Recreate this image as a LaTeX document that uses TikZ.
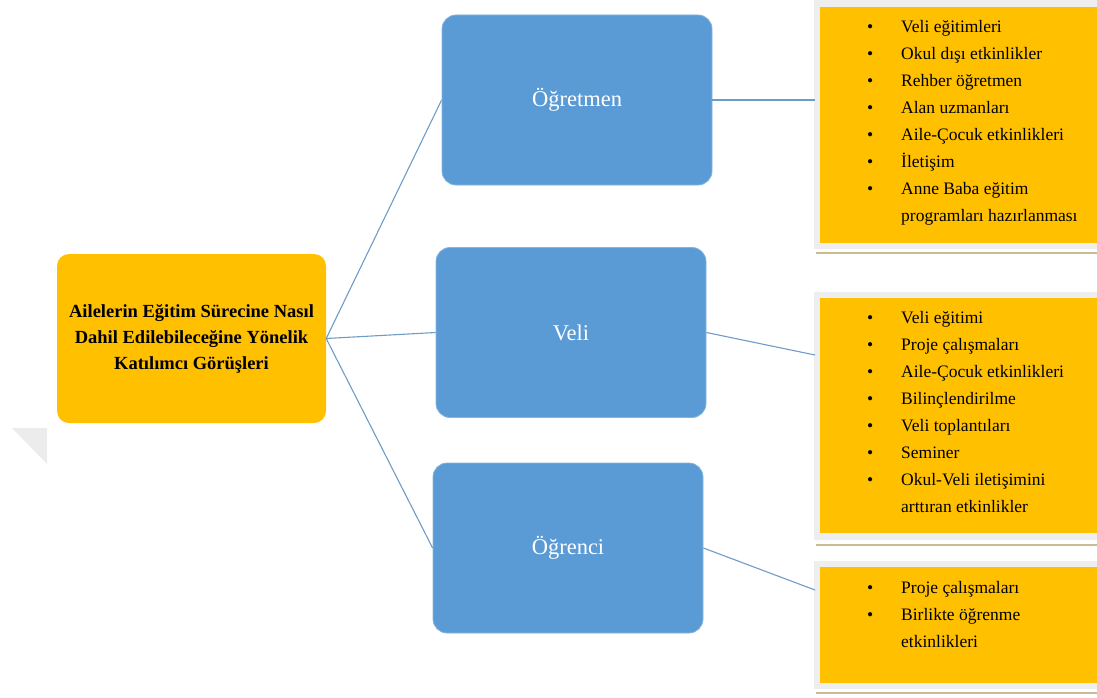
\documentclass[tikz,border=0pt]{standalone}
\usepackage{fontspec}
\setmainfont{Liberation Serif}
\definecolor{cOrange}{HTML}{FFC000}
\definecolor{cBlue}{HTML}{5B9BD5}
\definecolor{cLine}{HTML}{6F9BC8}
\definecolor{cFrame}{HTML}{EEEEEE}
\definecolor{cTan}{HTML}{C9BB94}
\tikzset{
  mainbox/.style={fill=cOrange, draw=none, rounded corners=12pt, inner sep=0pt,
    minimum width=269pt, minimum height=169pt, align=center,
    font=\bfseries\fontsize{18.5}{26}\selectfont},
  bluebox/.style={fill=cBlue, draw=cBlue!75!white, line width=0.8pt, rounded corners=14pt, inner sep=0pt,
    minimum width=270pt, minimum height=170pt, text=white,
    font=\fontsize{22.5}{26}\selectfont},
  framebox/.style={fill=cFrame, draw=none},
  listbox/.style={fill=cOrange, draw=none, inner sep=0pt},
  listtext/.style={anchor=north west, inner sep=0pt, font=\fontsize{17.5}{27}\selectfont},
  conn/.style={draw=cLine, line width=1.1pt},
  tanline/.style={draw=cTan, line width=2.5pt},
}
\newcommand{\blist}[1]{\begin{tabular}{@{}p{34pt}@{}l@{}}#1\end{tabular}}
\begin{document}
\begin{tikzpicture}[x=1pt,y=-1pt]
\useasboundingbox (0,0) rectangle (1097,698);
% shadow artifact
\fill[gray!15] (12,428) -- (47,428) -- (47,464) -- cycle;

% centre
\node[mainbox] (c) at (191.5,338.5) {Ailelerin Eğitim Sürecine Nasıl\\Dahil Edilebileceğine Yönelik\\Katılımcı Görüşleri};

% blue boxes
\node[bluebox] (og) at (577,100) {Öğretmen};
\node[bluebox] (ve) at (571,332.5) {Veli};
\node[bluebox] (oc) at (568,548) {Öğrenci};

% right list boxes
\fill[framebox] (814,0) rectangle (1097,249);
\draw[tanline] (816,253) -- (1097,253);
\node[listbox, anchor=north west, minimum width=277pt, minimum height=236pt] (l1) at (820,7) {};
\fill[framebox] (814,292) rectangle (1097,540);
\draw[tanline] (816,545) -- (1097,545);
\node[listbox, anchor=north west, minimum width=277pt, minimum height=235pt] (l2) at (820,298) {};
\fill[framebox] (814,561) rectangle (1097,689);
\draw[tanline] (816,693) -- (1097,693);
\node[listbox, anchor=north west, minimum width=277pt, minimum height=116pt] (l3) at (820,567) {};

\node[listtext] (t1) at (867,13) {\blist{%
\textbullet & Veli eğitimleri\\
\textbullet & Okul dışı etkinlikler\\
\textbullet & Rehber öğretmen\\
\textbullet & Alan uzmanları\\
\textbullet & Aile-Çocuk etkinlikleri\\
\textbullet & İletişim\\
\textbullet & Anne Baba eğitim\\
 & programları hazırlanması}};
\node[listtext] (t2) at (867,304) {\blist{%
\textbullet & Veli eğitimi\\
\textbullet & Proje çalışmaları\\
\textbullet & Aile-Çocuk etkinlikleri\\
\textbullet & Bilinçlendirilme\\
\textbullet & Veli toplantıları\\
\textbullet & Seminer\\
\textbullet & Okul-Veli iletişimini\\
 & arttıran etkinlikler}};
\node[listtext] (t3) at (867,574) {\blist{%
\textbullet & Proje çalışmaları\\
\textbullet & Birlikte öğrenme\\
 & etkinlikleri}};

% connector end points
\coordinate (e1) at (815,100);
\coordinate (e2) at (815,355);
\coordinate (e3) at (815,590);

\draw[conn] (c.east) -- (og.west);
\draw[conn] (c.east) -- (ve.west);
\draw[conn] (c.east) -- (oc.west);
\draw[conn] (og.east) -- (e1);
\draw[conn] (ve.east) -- (e2);
\draw[conn] (oc.east) -- (e3);
\end{tikzpicture}
\end{document}
